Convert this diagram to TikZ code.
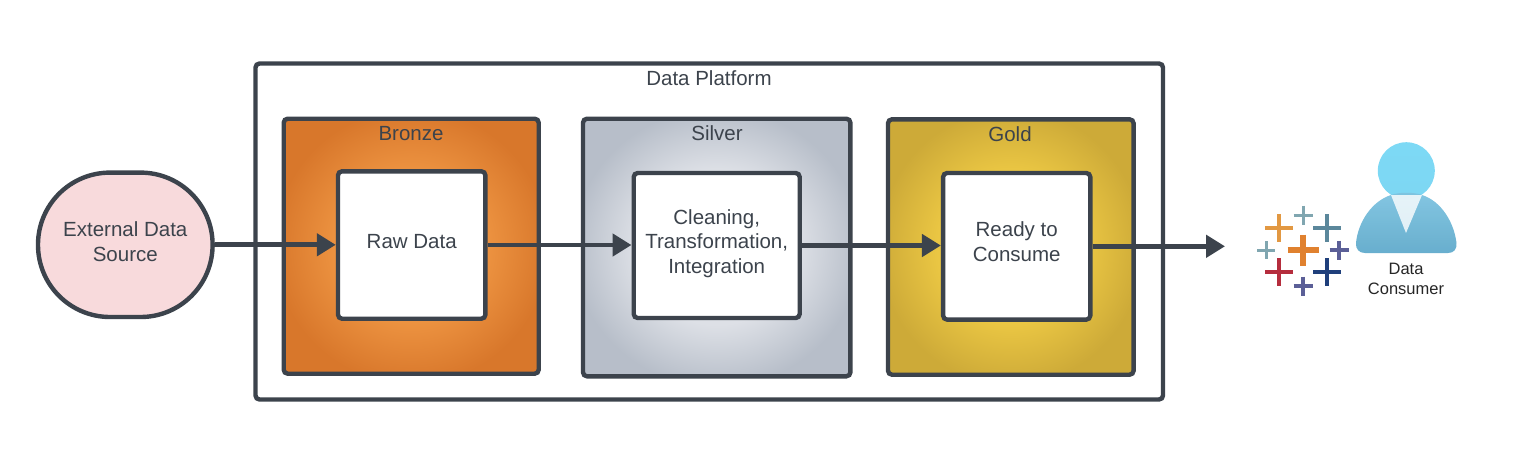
\documentclass[tikz,border=0pt]{standalone}
\usepackage{xcolor}
\usepackage{fontspec}
\setmainfont{Liberation Sans}
\usetikzlibrary{arrows.meta, shapes}
\definecolor{strokegray}{RGB}{60, 67, 76}
\definecolor{sourcepink}{RGB}{248, 218, 220}
\definecolor{bronzeedge}{RGB}{216, 119, 43}
\definecolor{bronzeglow}{RGB}{236, 146, 64}
\definecolor{silveredge}{RGB}{183, 190, 201}
\definecolor{silverglow}{RGB}{221, 224, 230}
\definecolor{goldedge}{RGB}{205, 170, 56}
\definecolor{goldglow}{RGB}{234, 198, 67}
\definecolor{headblue}{RGB}{125, 217, 245}
\definecolor{bodytop}{RGB}{125, 195, 224}
\definecolor{bodybottom}{RGB}{96, 170, 203}
\definecolor{tabamber}{RGB}{226, 152, 66}
\definecolor{taborange}{RGB}{224, 129, 47}
\definecolor{tabmist}{RGB}{128, 166, 176}
\definecolor{tabslate}{RGB}{91, 135, 155}
\definecolor{tabviolet}{RGB}{91, 95, 151}
\definecolor{tabred}{RGB}{181, 45, 61}
\definecolor{tabnavy}{RGB}{31, 63, 123}
\pgfdeclareradialshading{bronzefill}{\pgfpointorigin}{color(0bp)=(bronzeglow); color(15bp)=(bronzeglow); color(27bp)=(bronzeedge); color(50bp)=(bronzeedge)}
\pgfdeclareradialshading{silverfill}{\pgfpointorigin}{color(0bp)=(silverglow); color(15bp)=(silverglow); color(27bp)=(silveredge); color(50bp)=(silveredge)}
\pgfdeclareradialshading{goldfill}{\pgfpointorigin}{color(0bp)=(goldglow); color(15bp)=(goldglow); color(27bp)=(goldedge); color(50bp)=(goldedge)}
\newcommand{\lowstrut}[1]{\rule[-#1]{0pt}{#1}}
\tikzset{
  plainbox/.style={draw=strokegray, line width=2.2pt, rounded corners=2pt, inner sep=0pt, align=center, text=strokegray, font=\fontsize{10.25}{12.25}\selectfont},
  flow/.style={draw=strokegray, line width=2.4pt, -{Triangle[length=9.5pt, width=11pt]}},
  caption/.style={text=strokegray, inner sep=0pt, font=\fontsize{10.25}{12.25}\selectfont}
}
\begin{document}
\begin{tikzpicture}[x=0.5pt, y=-0.5pt]
    \useasboundingbox (0,0) rectangle (1532,468);

    % outer frame
    \node[plainbox, minimum width=453.75pt, minimum height=168pt] (platform) at (709.25,231.5) {};
    \node[caption] (platformlabel) at (709,78) {Data Platform};

    % layers
    \node[plainbox, shading=bronzefill, minimum width=127.5pt, minimum height=127.5pt] (bronze) at (411.2,246.2) {};
    \node[plainbox, shading=silverfill, minimum width=133.7pt, minimum height=128.8pt] (silver) at (716.7,247.5) {};
    \node[plainbox, shading=goldfill, minimum width=122.8pt, minimum height=127.7pt] (gold) at (1010.8,247) {};
    \node[caption] (bronzelabel) at (411,134) {Bronze};
    \node[caption] (silverlabel) at (717,133) {Silver};
    \node[caption] (goldlabel) at (1010,134) {Gold};

    % inner steps
    \node[plainbox, fill=white, minimum width=73.7pt, minimum height=73.7pt] (raw) at (411.7,245) {Raw Data\lowstrut{4pt}};
    \node[plainbox, fill=white, minimum width=83pt, minimum height=72.5pt] (clean) at (716.7,245.5) {Cleaning,\\Transformation,\\Integration\lowstrut{4pt}};
    \node[plainbox, fill=white, minimum width=73.6pt, minimum height=73.3pt] (ready) at (1016.7,246.3) {Ready to\\Consume\lowstrut{4.5pt}};

    % source
    \node[plainbox, fill=sourcepink, rounded corners=36pt, minimum width=87.3pt, minimum height=72.2pt] (source) at (125.3,244.8) {External Data\\Source\lowstrut{3pt}};

    % arrows
    \coordinate (outlet) at (1225,246.3);
    \draw[flow] (source.east) -- (source.east -| raw.west);
    \draw[flow] (raw.east) -- (raw.east -| clean.west);
    \draw[flow] (clean.east) -- (clean.east -| ready.west);
    \draw[flow] (ready.east) -- (outlet);

    % tableau mark
    \foreach \cx/\cy/\arm/\thick/\col in {
        1279/228/14/2/tabamber, 1303/215/9.5/1.5/tabmist, 1327/228/14/2/tabslate,
        1266/250/9/1.5/tabmist, 1303/250/15.5/2.6/taborange, 1339/250/9.5/1.8/tabviolet,
        1279/272/14/2/tabred, 1327/272/14/2/tabnavy, 1303/286/9.5/1.8/tabviolet} {
        \draw[\col, line width=\thick pt] (\cx-\arm,\cy) -- (\cx+\arm,\cy);
        \draw[\col, line width=\thick pt] (\cx,\cy-\arm) -- (\cx,\cy+\arm);
    }

    % consumer
    \shade[top color=headblue, bottom color=headblue!90!bodytop] (1406.3,170.7) circle (14.25pt);
    \shade[top color=bodytop, bottom color=bodybottom, opacity=0.95] (1391,195) .. controls (1398,192) and (1415,192) .. (1422,195) .. controls (1441,201) and (1454,222) .. (1456.5,243) .. controls (1457,249) and (1454,253) .. (1448,253) -- (1365,253) .. controls (1359,253) and (1355.5,249) .. (1356,243) .. controls (1358,222) and (1372,201) .. (1391,195) -- cycle;
    \fill[white, opacity=0.8] (1391,195) -- (1422,195) -- (1406,233) -- cycle;
    \node[align=center, inner sep=0pt, text=black!85, font=\fontsize{8.25}{10}\selectfont] (consumer) at (1406,279) {Data\\Consumer};
\end{tikzpicture}
\end{document}
